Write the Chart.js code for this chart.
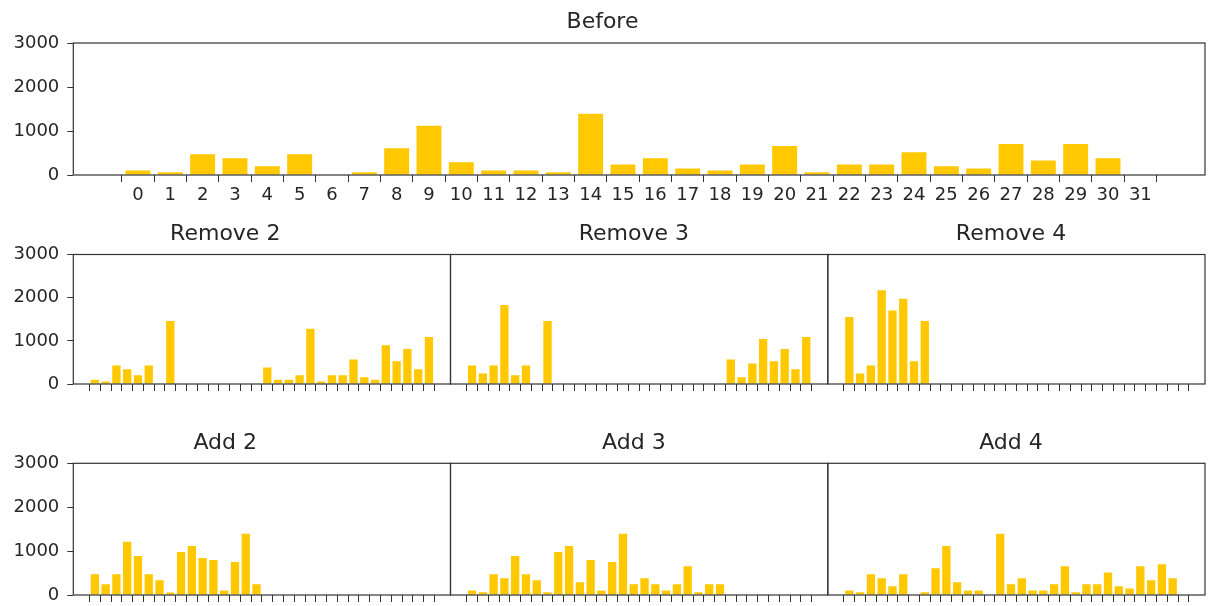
<!DOCTYPE html>
<html>
<head>
<meta charset="utf-8">
<script src="https://cdn.jsdelivr.net/npm/chart.js@4"></script>
<style>
  body { margin: 0; background: #fff; }
  #wrap { position: relative; width: 1208px; height: 606px; }
  #wrap canvas { position: absolute; }
</style>
</head>
<body>
<div id="wrap">
  <canvas id="before"></canvas>
  <canvas id="rem2"></canvas>
  <canvas id="rem3"></canvas>
  <canvas id="rem4"></canvas>
  <canvas id="add2"></canvas>
  <canvas id="add3"></canvas>
  <canvas id="add4"></canvas>
</div>
<script>
// bins 0..31
const bins = Array.from({ length: 32 }, (_, i) => i);
const yTicks = [0, 1000, 2000, 3000];

const before  = [100, 60, 470, 380, 200, 470, 0, 60, 610, 1120, 290, 100, 100, 60, 1390, 240,
                 380, 150, 105, 240, 660, 60, 240, 240, 515, 200, 150, 705, 330, 705, 380, 0];
const remove2 = [100, 60, 430, 340, 200, 430, 0, 1460, 0, 0, 0, 0, 0, 0, 0, 0,
                 385, 100, 100, 200, 1280, 60, 200, 200, 570, 155, 100, 900, 525, 810, 340, 1090];
const remove3 = [430, 245, 430, 1830, 200, 430, 0, 1460, 0, 0, 0, 0, 0, 0, 0, 0,
                 0, 0, 0, 0, 0, 0, 0, 0, 570, 155, 475, 1040, 525, 810, 340, 1090];
const remove4 = [1555, 245, 430, 2170, 1700, 1975, 525, 1460, 0, 0, 0, 0, 0, 0, 0, 0,
                 0, 0, 0, 0, 0, 0, 0, 0, 0, 0, 0, 0, 0, 0, 0, 0];
const add2    = [470, 245, 470, 1215, 890, 470, 335, 55, 980, 1115, 845, 800, 105, 750, 1395, 245,
                 0, 0, 0, 0, 0, 0, 0, 0, 0, 0, 0, 0, 0, 0, 0, 0];
const add3    = [105, 60, 470, 380, 890, 470, 335, 60, 980, 1115, 290, 800, 105, 750, 1395, 245,
                 380, 245, 105, 245, 655, 60, 245, 245, 0, 0, 0, 0, 0, 0, 0, 0];
const add4    = [105, 60, 470, 380, 200, 470, 0, 60, 610, 1115, 290, 105, 105, 0, 1395, 245,
                 380, 105, 105, 245, 655, 60, 245, 245, 515, 200, 150, 655, 335, 700, 380, 0];

const barColor = "#ffc800";
const ink = "#262626";

// draws the box round the axes
const frame = {
    id: "frame",
    afterDraw(chart) {
        const a = chart.chartArea;
        const ctx = chart.ctx;
        ctx.save();
        ctx.strokeStyle = "#333";
        ctx.lineWidth = 1.2;
        ctx.strokeRect(a.left, a.top, a.right - a.left, a.bottom - a.top);
        ctx.restore();
    }
};

function noPad(s) {
    s.paddingTop = 0;
    s.paddingBottom = 0;
    s.paddingLeft = 0;
    s.paddingRight = 0;
}

function makeChart(id, title, values, box, plot, titleY, showY, showX) {
    const [cx, cy, cw, ch] = box;
    const [l, t, r, b] = plot;
    const canvas = document.getElementById(id);
    canvas.width = cw;
    canvas.height = ch;
    canvas.style.left = cx + "px";
    canvas.style.top = cy + "px";

    const padTop = titleY - cy - 13.2;
    const padBottom = (t - cy) - padTop - 26.4;

    return new Chart(canvas, {
        type: "bar",
        data: {
            labels: bins,
            datasets: [{
                data: values,
                backgroundColor: barColor,
                borderWidth: 0,
                barPercentage: 0.77,
                categoryPercentage: 1.0
            }]
        },
        options: {
            responsive: false,
            animation: false,
            layout: { padding: { left: 0, top: 0, bottom: 0, right: cx + cw - r } },
            plugins: {
                legend: { display: false },
                tooltip: { enabled: false },
                title: {
                    display: true,
                    text: title,
                    color: ink,
                    font: { family: "DejaVu Sans", size: 22, weight: "normal" },
                    padding: { top: padTop, bottom: padBottom }
                }
            },
            scales: {
                x: {
                    type: "linear",
                    min: -2,
                    max: 33,
                    offset: false,
                    afterBuildTicks: axis => { axis.ticks = bins.map(v => ({ value: v })); },
                    afterFit: s => { s.height = cy + ch - b; noPad(s); },
                    grid: { drawOnChartArea: false, drawTicks: true, tickLength: 7, tickColor: "#333" },
                    border: { display: false },
                    ticks: {
                        display: showX,
                        autoSkip: false,
                        maxRotation: 0,
                        padding: 3,
                        color: ink,
                        font: { family: "DejaVu Sans", size: 18 },
                        callback: v => String(v)
                    }
                },
                y: {
                    min: 0,
                    max: 3000,
                    afterBuildTicks: axis => { axis.ticks = yTicks.map(v => ({ value: v })); },
                    afterFit: s => { s.width = l - cx; noPad(s); },
                    grid: { drawOnChartArea: false, drawTicks: showY, tickLength: 6, tickColor: "#333" },
                    border: { display: false },
                    ticks: {
                        display: showY,
                        padding: 8,
                        color: ink,
                        font: { family: "DejaVu Sans", size: 18 },
                        callback: v => String(v)
                    }
                }
            }
        },
        plugins: [frame]
    });
}

// column edges of the small axes
const c0 = 73.3, c1 = 450.5, c2 = 827.8, c3 = 1205;

makeChart("before", "Before", before, [0, 0, 1208, 215], [c0, 43, c3, 175], 22, true, true);

makeChart("rem2", "Remove 2", remove2, [0, 210, 454, 188], [c0, 254.5, c1, 384], 234, true, false);
makeChart("rem3", "Remove 3", remove3, [440, 210, 392, 188], [c1, 254.5, c2, 384], 234, false, false);
makeChart("rem4", "Remove 4", remove4, [817, 210, 391, 188], [c2, 254.5, c3, 384], 234, false, false);

makeChart("add2", "Add 2", add2, [0, 419, 454, 187], [c0, 463.3, c1, 595], 443, true, false);
makeChart("add3", "Add 3", add3, [440, 419, 392, 187], [c1, 463.3, c2, 595], 443, false, false);
makeChart("add4", "Add 4", add4, [817, 419, 391, 187], [c2, 463.3, c3, 595], 443, false, false);
</script>
</body>
</html>
